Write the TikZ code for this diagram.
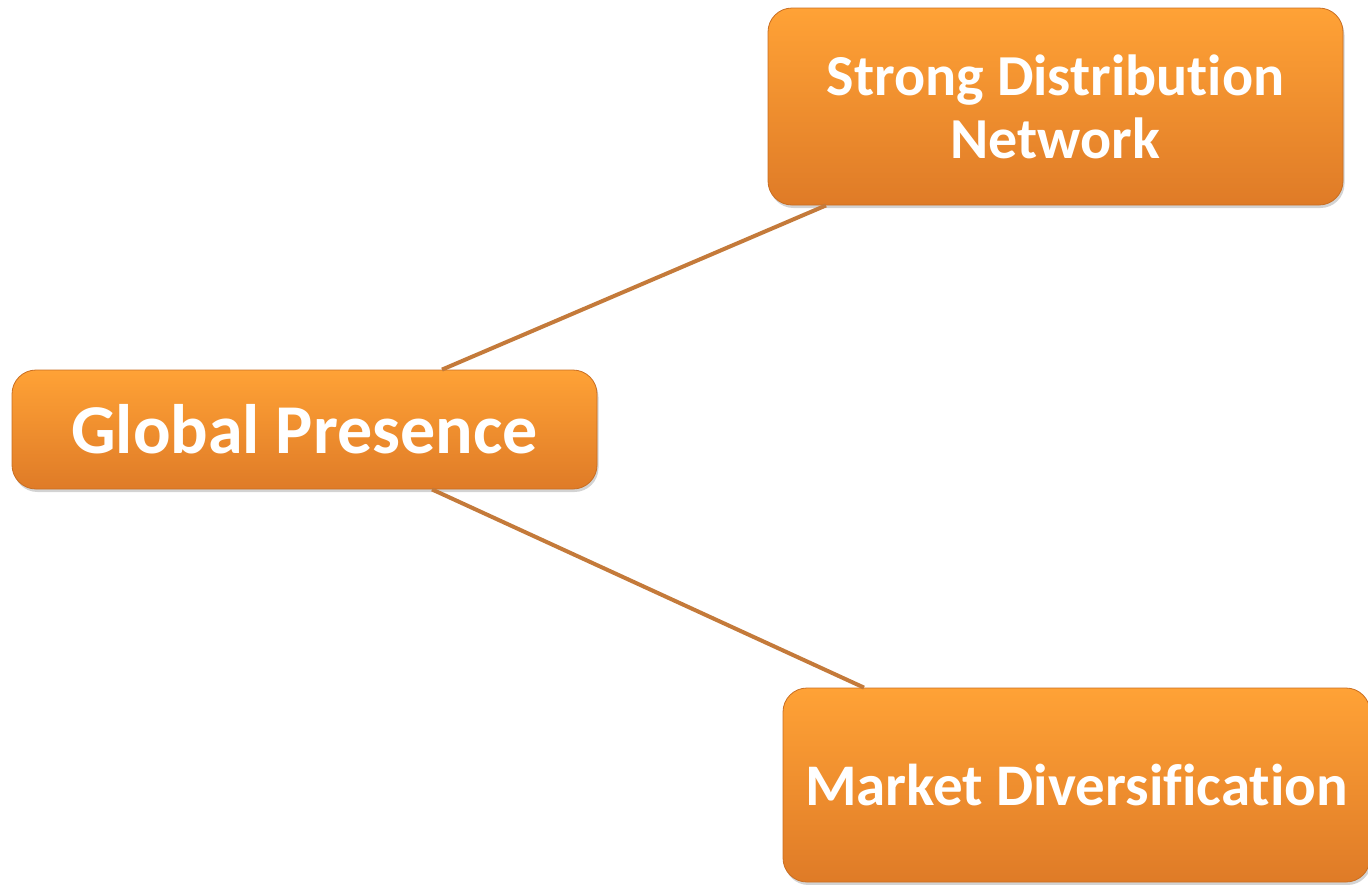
\documentclass[tikz,border=0pt]{standalone}
\usepackage{fontspec}
\setmainfont{Carlito}[Ligatures=NoCommon]
\usetikzlibrary{shadows}
\definecolor{boxtop}{HTML}{FFA236}
\definecolor{boxbot}{HTML}{DF7B27}
\definecolor{boxrim}{HTML}{C96E22}
\definecolor{linkcol}{HTML}{C47A3A}

\tikzset{
	topicbox/.style={rounded corners=24pt,draw=boxrim,line width=0.8pt,
		top color=boxtop,bottom color=boxbot,
		drop shadow={opacity=0.35,shadow xshift=1.5pt,shadow yshift=-3pt},
		text=white,font=\bfseries,align=center,inner sep=0pt},
	link/.style={draw=linkcol,line width=4pt}
}

\begin{document}
\begin{tikzpicture}[x=1pt,y=-1pt]
	\useasboundingbox (0,0) rectangle (1368,884);
	% boxes
	\node[topicbox,minimum width=585pt,minimum height=119pt,font=\fontsize{70}{78}\bfseries]
		(gp) at (304.5,429.5) {Global Presence};
	\node[topicbox,minimum width=575pt,minimum height=197pt,font=\fontsize{58}{63}\bfseries]
		(sdn) at (1055.5,106.5) {Strong Distribution\\Network};
	\node[topicbox,minimum width=587pt,minimum height=194pt,font=\fontsize{59}{63}\bfseries]
		(mdv) at (1076.5,785) {Market Diversification};
	% links
	\draw[link] ([xshift=137.5pt]gp.north) -- ([xshift=-229.5pt]sdn.south);
	\draw[link] ([xshift=127.5pt]gp.south) -- ([xshift=-212.5pt]mdv.north);
\end{tikzpicture}
\end{document}
